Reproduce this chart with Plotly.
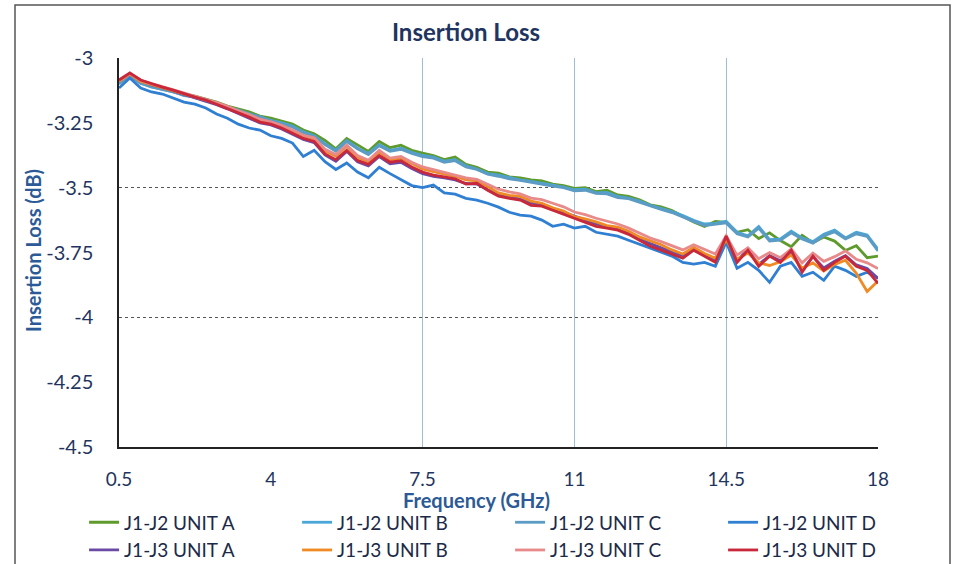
import plotly.graph_objects as go

freq = [0.5, 0.75, 1.0, 1.25, 1.5, 1.75, 2.0, 2.25, 2.5, 2.75, 3.0, 3.25, 3.5, 3.75,
        4.0, 4.25, 4.5, 4.75, 5.0, 5.25, 5.5, 5.75, 6.0, 6.25, 6.5, 6.75, 7.0, 7.25,
        7.5, 7.75, 8.0, 8.25, 8.5, 8.75, 9.0, 9.25, 9.5, 9.75, 10.0, 10.25, 10.5, 10.75,
        11.0, 11.25, 11.5, 11.75, 12.0, 12.25, 12.5, 12.75, 13.0, 13.25, 13.5, 13.75,
        14.0, 14.25, 14.5, 14.75, 15.0, 15.25, 15.5, 15.75, 16.0, 16.25, 16.5, 16.75,
        17.0, 17.25, 17.5, 17.75, 18.0]

j12_a = [-3.093, -3.062, -3.093, -3.108, -3.116, -3.127, -3.139, -3.147, -3.158, -3.170,
         -3.185, -3.197, -3.208, -3.224, -3.232, -3.243, -3.255, -3.278, -3.292, -3.318,
         -3.350, -3.310, -3.336, -3.360, -3.322, -3.346, -3.336, -3.356, -3.367, -3.376,
         -3.392, -3.382, -3.410, -3.422, -3.440, -3.444, -3.458, -3.462, -3.470, -3.474,
         -3.486, -3.492, -3.503, -3.500, -3.515, -3.510, -3.528, -3.534, -3.547, -3.566,
         -3.574, -3.588, -3.610, -3.632, -3.650, -3.630, -3.634, -3.672, -3.662, -3.696,
         -3.674, -3.704, -3.728, -3.684, -3.712, -3.690, -3.706, -3.742, -3.724, -3.770,
         -3.764]
j12_b = [-3.098, -3.066, -3.096, -3.112, -3.120, -3.132, -3.142, -3.152, -3.163, -3.176,
         -3.190, -3.203, -3.215, -3.228, -3.240, -3.250, -3.262, -3.285, -3.300, -3.330,
         -3.356, -3.318, -3.348, -3.368, -3.334, -3.356, -3.348, -3.364, -3.376, -3.382,
         -3.398, -3.392, -3.416, -3.428, -3.446, -3.452, -3.462, -3.470, -3.476, -3.482,
         -3.490, -3.498, -3.508, -3.506, -3.520, -3.518, -3.534, -3.540, -3.552, -3.568,
         -3.580, -3.592, -3.608, -3.626, -3.640, -3.638, -3.630, -3.672, -3.686, -3.650,
         -3.700, -3.698, -3.668, -3.694, -3.708, -3.680, -3.664, -3.694, -3.672, -3.682,
         -3.738]
j12_c = [-3.100, -3.068, -3.098, -3.110, -3.122, -3.130, -3.145, -3.150, -3.166, -3.174,
         -3.192, -3.200, -3.218, -3.226, -3.242, -3.254, -3.266, -3.288, -3.304, -3.334,
         -3.360, -3.322, -3.350, -3.372, -3.338, -3.360, -3.352, -3.368, -3.380, -3.386,
         -3.402, -3.396, -3.420, -3.430, -3.448, -3.456, -3.466, -3.472, -3.480, -3.486,
         -3.494, -3.500, -3.512, -3.510, -3.522, -3.524, -3.538, -3.542, -3.556, -3.572,
         -3.584, -3.596, -3.614, -3.630, -3.646, -3.642, -3.636, -3.678, -3.690, -3.656,
         -3.706, -3.702, -3.674, -3.698, -3.714, -3.686, -3.670, -3.698, -3.678, -3.688,
         -3.744]
j12_d = [-3.116, -3.077, -3.116, -3.131, -3.139, -3.154, -3.170, -3.178, -3.193, -3.216,
         -3.232, -3.255, -3.270, -3.278, -3.300, -3.310, -3.328, -3.380, -3.356, -3.400,
         -3.430, -3.405, -3.440, -3.462, -3.421, -3.446, -3.470, -3.492, -3.500, -3.490,
         -3.520, -3.525, -3.541, -3.548, -3.560, -3.575, -3.595, -3.606, -3.610, -3.625,
         -3.649, -3.641, -3.656, -3.649, -3.672, -3.680, -3.687, -3.703, -3.718, -3.734,
         -3.749, -3.764, -3.788, -3.795, -3.788, -3.803, -3.710, -3.811, -3.788, -3.819,
         -3.865, -3.803, -3.788, -3.842, -3.826, -3.857, -3.803, -3.819, -3.842, -3.826,
         -3.849]
j13_a = [-3.088, -3.060, -3.088, -3.104, -3.114, -3.127, -3.142, -3.154, -3.166, -3.180,
         -3.196, -3.214, -3.230, -3.250, -3.258, -3.274, -3.294, -3.314, -3.326, -3.374,
         -3.398, -3.360, -3.400, -3.416, -3.380, -3.408, -3.402, -3.426, -3.446, -3.456,
         -3.462, -3.470, -3.484, -3.486, -3.508, -3.528, -3.536, -3.544, -3.560, -3.566,
         -3.580, -3.596, -3.610, -3.624, -3.640, -3.650, -3.656, -3.672, -3.694, -3.716,
         -3.732, -3.748, -3.762, -3.736, -3.756, -3.778, -3.690, -3.780, -3.740, -3.796,
         -3.762, -3.782, -3.746, -3.818, -3.766, -3.810, -3.784, -3.762, -3.798, -3.812,
         -3.850]
j13_b = [-3.090, -3.062, -3.090, -3.102, -3.112, -3.124, -3.138, -3.148, -3.160, -3.174,
         -3.188, -3.206, -3.222, -3.240, -3.250, -3.264, -3.282, -3.300, -3.312, -3.358,
         -3.378, -3.340, -3.382, -3.400, -3.362, -3.392, -3.386, -3.408, -3.428, -3.438,
         -3.446, -3.456, -3.470, -3.474, -3.496, -3.520, -3.530, -3.534, -3.552, -3.560,
         -3.578, -3.590, -3.612, -3.620, -3.632, -3.646, -3.652, -3.668, -3.690, -3.706,
         -3.720, -3.740, -3.756, -3.730, -3.754, -3.772, -3.700, -3.776, -3.752, -3.790,
         -3.800, -3.786, -3.760, -3.810, -3.790, -3.822, -3.796, -3.780, -3.830, -3.900,
         -3.860]
j13_c = [-3.087, -3.060, -3.086, -3.100, -3.110, -3.122, -3.136, -3.146, -3.158, -3.172,
         -3.186, -3.204, -3.218, -3.236, -3.246, -3.260, -3.278, -3.298, -3.308, -3.352,
         -3.372, -3.336, -3.376, -3.394, -3.356, -3.386, -3.380, -3.402, -3.420, -3.430,
         -3.440, -3.450, -3.462, -3.468, -3.486, -3.506, -3.516, -3.524, -3.540, -3.546,
         -3.560, -3.574, -3.594, -3.604, -3.618, -3.630, -3.640, -3.656, -3.676, -3.694,
         -3.708, -3.724, -3.740, -3.720, -3.738, -3.756, -3.686, -3.760, -3.732, -3.774,
         -3.750, -3.770, -3.736, -3.790, -3.752, -3.784, -3.766, -3.744, -3.776, -3.790,
         -3.812]
j13_d = [-3.085, -3.058, -3.085, -3.100, -3.112, -3.124, -3.139, -3.151, -3.162, -3.178,
         -3.193, -3.212, -3.228, -3.247, -3.255, -3.270, -3.290, -3.310, -3.322, -3.370,
         -3.392, -3.356, -3.395, -3.410, -3.376, -3.402, -3.396, -3.420, -3.440, -3.452,
         -3.458, -3.466, -3.486, -3.483, -3.510, -3.533, -3.541, -3.548, -3.568, -3.571,
         -3.587, -3.602, -3.618, -3.633, -3.649, -3.656, -3.664, -3.680, -3.703, -3.726,
         -3.741, -3.757, -3.772, -3.741, -3.764, -3.788, -3.687, -3.788, -3.741, -3.803,
         -3.764, -3.788, -3.741, -3.826, -3.764, -3.819, -3.788, -3.764, -3.803, -3.819,
         -3.869]

series_names = ["J1-J2 UNIT A", "J1-J2 UNIT B", "J1-J2 UNIT C", "J1-J2 UNIT D",
                "J1-J3 UNIT A", "J1-J3 UNIT B", "J1-J3 UNIT C", "J1-J3 UNIT D"]
series_values = [j12_a, j12_b, j12_c, j12_d, j13_a, j13_b, j13_c, j13_d]
series_colors = ["#5f9a2c", "#4aa6d6", "#5b9bc4", "#2f7fd2",
                 "#6a4aa5", "#f08a24", "#e8898a", "#c8283a"]

x_ticks = [0.5, 4, 7.5, 11, 14.5, 18]
x_tick_text = ["0.5", "4", "7.5", "11", "14.5", "18"]
y_ticks = [-3, -3.25, -3.5, -3.75, -4, -4.25, -4.5]
y_tick_text = ["-3", "-3.25", "-3.5", "-3.75", "-4", "-4.25", "-4.5"]
x_grid = [7.5, 11, 14.5, 18]
y_grid = [-3, -3.5, -4]

FONT = "Lato"
NAVY = "#1f3560"
BLUE = "#2c5a96"

fig = go.Figure()
for name, vals, col in zip(series_names, series_values, series_colors):
    fig.add_trace(go.Scatter(x=freq, y=vals, mode="lines", name=name,
                             line=dict(color=col, width=2.8)))

fig.update_layout(
    width=956, height=564,
    margin=dict(l=119, r=78, t=58, b=117, autoexpand=False),
    paper_bgcolor="white", plot_bgcolor="white",
    font=dict(family=FONT, color=NAVY),
    title=dict(text="<b>Insertion Loss</b>", x=(466 - 119) / 759, xref="paper",
               xanchor="center",
               y=1 - 33 / 564, yanchor="middle", yref="container",
               font=dict(family=FONT, size=24, color=NAVY)),
    showlegend=True,
    legend=dict(orientation="h", x=-0.046, xanchor="left", y=-0.145, yanchor="top",
                entrywidth=168, entrywidthmode="pixels", traceorder="normal",
                font=dict(family=FONT, size=19, color="#1c2a48"),
                itemwidth=30, bgcolor="rgba(0,0,0,0)"),
)

fig.update_xaxes(
    range=[0.5, 18], tickvals=x_ticks, ticktext=x_tick_text,
    showgrid=False, zeroline=False,
    showline=True, linecolor="#222", linewidth=1.5,
    ticks="outside", ticklen=14, tickcolor="rgba(0,0,0,0)",
    tickfont=dict(family=FONT, size=19, color=NAVY),
    minor=dict(tickvals=x_grid, showgrid=True, gridcolor="#9dbdd0", gridwidth=1, ticks=""),
)
fig.update_yaxes(
    range=[-4.5, -3], tickvals=y_ticks, ticktext=y_tick_text,
    showgrid=False, zeroline=False,
    showline=True, linecolor="#222", linewidth=1.5,
    ticks="outside", ticklen=20, tickcolor="rgba(0,0,0,0)",
    tickfont=dict(family=FONT, size=20, color=NAVY),
    minor=dict(tickvals=y_grid, showgrid=True, gridcolor="#555", gridwidth=1,
               griddash="dot", ticks=""),
)

fig.add_annotation(text="<b>Frequency (GHz)</b>", xref="paper", yref="paper",
                   x=(476 - 119) / 759, y=(447 - 500) / 389, showarrow=False,
                   xanchor="center", yanchor="middle",
                   font=dict(family=FONT, size=20, color=BLUE))
fig.add_annotation(text="<b>Insertion Loss (dB)</b>", xref="paper", yref="paper",
                   x=(33 - 119) / 759, y=(447 - 251) / 389, showarrow=False,
                   textangle=-90, xanchor="center", yanchor="middle",
                   font=dict(family=FONT, size=20, color=BLUE))

# outer chart frame
fig.add_shape(type="rect", xref="paper", yref="paper",
              x0=(15 - 119) / 759, x1=(950 - 119) / 759,
              y0=-0.6, y1=(447 - 5) / 389,
              line=dict(color="#555", width=1.5), layer="below")

fig.write_html("out.html",
               config={"displayModeBar": False},
               post_script="document.body.style.margin='0px';"
                           "document.body.style.overflow='hidden';")
